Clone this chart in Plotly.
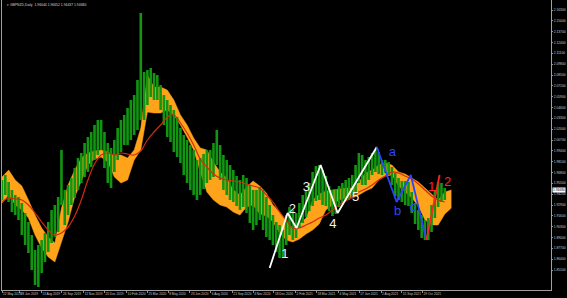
import pandas as pd
import plotly.graph_objects as go

START = "2019-05-22"

# weekly bar highs / lows (GBPNZD daily chart)
price_high = [
    1.9590, 1.9650, 1.9566, 1.9470, 1.9410, 1.9386, 1.9314, 1.9194, 1.9086, 1.8930,
    1.8750, 1.8810, 1.8870, 1.8954, 1.9086, 1.9230, 1.9290, 1.9386, 1.9950, 1.9470,
    1.9530, 1.9614, 1.9734, 1.9854, 1.9914, 2.0034, 2.0106, 2.0166, 2.0250, 2.0310,
    2.0310, 2.0166, 2.0034, 1.9974, 2.0070, 2.0214, 2.0310, 2.0370, 2.0454, 2.0550,
    2.0610, 2.0790, 2.1594, 2.0886, 2.0910, 2.0934, 2.0874, 2.0850, 2.0730, 2.0610,
    2.0550, 2.0490, 2.0430, 2.0346, 2.0214, 2.0130, 2.0070, 2.0010, 1.9950, 1.9830,
    1.9854, 1.9902, 1.9950, 1.9950, 2.0034, 2.0190, 2.0010, 1.9890, 1.9830, 1.9770,
    1.9710, 1.9638, 1.9590, 1.9650, 1.9614, 1.9530, 1.9470, 1.9470, 1.9506, 1.9470,
    1.9386, 1.9290, 1.9170, 1.9086, 1.9050, 1.8990, 1.9170, 1.9266, 1.9230, 1.9194,
    1.9314, 1.9410, 1.9458, 1.9554, 1.9686, 1.9758, 1.9770, 1.9710, 1.9638, 1.9518,
    1.9470, 1.9482, 1.9518, 1.9554, 1.9590, 1.9614, 1.9650, 1.9770, 1.9914, 1.9890,
    1.9830, 1.9866, 1.9914, 1.9950, 1.9926, 1.9830, 1.9830, 1.9806, 1.9746, 1.9674,
    1.9614, 1.9578, 1.9578, 1.9566, 1.9446, 1.9314, 1.9230, 1.9170, 1.9110, 1.9134,
    1.9290, 1.9470, 1.9566, 1.9554, 1.9494,
]
price_low = [
    1.9350, 1.9410, 1.9326, 1.9206, 1.9170, 1.9110, 1.8930, 1.8810, 1.8714, 1.8510,
    1.8330, 1.8306, 1.8474, 1.8606, 1.8726, 1.8834, 1.8906, 1.8966, 1.9290, 1.9050,
    1.9170, 1.9290, 1.9374, 1.9470, 1.9554, 1.9626, 1.9686, 1.9746, 1.9830, 1.9890,
    1.9950, 1.9734, 1.9554, 1.9494, 1.9686, 1.9830, 1.9926, 2.0010, 2.0010, 2.0070,
    2.0130, 2.0190, 2.0310, 2.0310, 2.0490, 2.0586, 2.0550, 2.0550, 2.0430, 2.0250,
    2.0106, 2.0046, 1.9926, 1.9866, 1.9794, 1.9650, 1.9554, 1.9470, 1.9410, 1.9350,
    1.9410, 1.9482, 1.9554, 1.9590, 1.9626, 1.9770, 1.9590, 1.9470, 1.9410, 1.9350,
    1.9326, 1.9278, 1.9230, 1.9266, 1.9194, 1.9074, 1.8990, 1.9050, 1.9110, 1.8990,
    1.8906, 1.8870, 1.8810, 1.8726, 1.8654, 1.8654, 1.8810, 1.8930, 1.8870, 1.8894,
    1.9014, 1.9074, 1.9146, 1.9218, 1.9278, 1.9338, 1.9350, 1.9290, 1.9278, 1.9218,
    1.9158, 1.9182, 1.9266, 1.9302, 1.9350, 1.9350, 1.9374, 1.9410, 1.9554, 1.9530,
    1.9530, 1.9590, 1.9650, 1.9686, 1.9662, 1.9650, 1.9674, 1.9650, 1.9530, 1.9398,
    1.9350, 1.9326, 1.9290, 1.9278, 1.9194, 1.9062, 1.8990, 1.8894, 1.8870, 1.8870,
    1.8966, 1.9134, 1.9266, 1.9326, 1.9350,
]

# Ichimoku cloud edges (every 2 weeks)
cloud_top = [
    1.9626, 1.9710, 1.9590, 1.9518, 1.9350, 1.9170, 1.9014, 1.8906, 1.8834, 1.9254,
    1.9530, 1.9710, 1.9854, 1.9914, 1.9938, 1.9950, 1.9926, 1.9890, 1.9890, 1.9854,
    1.9950, 2.0214, 2.0850, 2.0706, 2.0706, 2.0670, 2.0550, 2.0370, 2.0250, 2.0094,
    1.9974, 1.9950, 1.9806, 1.9686, 1.9614, 1.9470, 1.9410, 1.9506, 1.9578, 1.9518,
    1.9434, 1.9290, 1.9206, 1.9098, 1.9014, 1.9062, 1.9134, 1.9350, 1.9422, 1.9458,
    1.9470, 1.9482, 1.9494, 1.9494, 1.9566, 1.9674, 1.9710, 1.9770, 1.9794, 1.9770,
    1.9686, 1.9662, 1.9614, 1.9566, 1.9494, 1.9422, 1.9350, 1.9446, 1.9470,
]
cloud_bottom = [
    1.9314, 1.9410, 1.9290, 1.9230, 1.9134, 1.8930, 1.8774, 1.8666, 1.8606, 1.8846,
    1.9086, 1.9386, 1.9590, 1.9770, 1.9842, 1.9866, 1.9806, 1.9626, 1.9554, 1.9590,
    1.9830, 1.9950, 2.0406, 2.0394, 2.0394, 2.0430, 2.0370, 2.0250, 2.0106, 1.9950,
    1.9686, 1.9446, 1.9350, 1.9290, 1.9266, 1.9206, 1.9170, 1.9266, 1.9290, 1.9182,
    1.9158, 1.9086, 1.8954, 1.8870, 1.8846, 1.8882, 1.8942, 1.8990, 1.9062, 1.9230,
    1.9290, 1.9350, 1.9374, 1.9374, 1.9410, 1.9458, 1.9494, 1.9590, 1.9638, 1.9650,
    1.9518, 1.9446, 1.9374, 1.9278, 1.9110, 1.9050, 1.9050, 1.9182, 1.9254,
]

# moving average (every 2 weeks)
ma_values = [
    1.9326, 1.9374, 1.9362, 1.9350, 1.9290, 1.9194, 1.9086, 1.8990, 1.8930, 1.8954,
    1.9026, 1.9158, 1.9350, 1.9590, 1.9782, 1.9890, 1.9914, 1.9890, 1.9914, 1.9902,
    1.9890, 1.9938, 2.0070, 2.0166, 2.0250, 2.0346, 2.0370, 2.0274, 2.0154, 2.0010,
    1.9842, 1.9746, 1.9662, 1.9614, 1.9590, 1.9578, 1.9566, 1.9542, 1.9518, 1.9494,
    1.9410, 1.9326, 1.9206, 1.9110, 1.9014, 1.9014, 1.9050, 1.9086, 1.9134, 1.9170,
    1.9230, 1.9290, 1.9338, 1.9386, 1.9446, 1.9482, 1.9530, 1.9590, 1.9638, 1.9686,
    1.9674, 1.9638, 1.9602, 1.9542, 1.9470, 1.9398, 1.9350, 1.9326,
]

# Elliott wave zigzags
white_dates = ["2020-12-09", "2021-01-16", "2021-02-04", "2021-03-27", "2021-05-02", "2021-07-24"]
white_prices = [1.8534, 1.9194, 1.9014, 1.9770, 1.9194, 1.9986]
blue_dates = ["2021-07-24", "2021-09-04", "2021-10-04", "2021-11-06"]
blue_prices = [1.9986, 1.9326, 1.9650, 1.8870]
red_dates = ["2021-11-06", "2021-12-04"]
red_prices = [1.8870, 1.9650]

white_labels = ["1", "2", "3", "4", "5"]
white_label_dates = ["2021-01-10", "2021-01-26", "2021-02-25", "2021-04-22", "2021-06-09"]
white_label_prices = [1.8690, 1.9230, 1.9494, 1.9050, 1.9374]
blue_labels = ["a", "b", "c"]
blue_label_dates = ["2021-08-26", "2021-09-06", "2021-10-08"]
blue_label_prices = [1.9914, 1.9206, 1.9254]
red_labels = ["1", "2"]
red_label_dates = ["2021-11-17", "2021-12-21"]
red_label_prices = [1.9494, 1.9554]

x_tick_dates = ["2019-05-22", "2019-06-28", "2019-08-13", "2019-09-26", "2019-11-11",
                "2019-12-25", "2020-02-10", "2020-03-25", "2020-05-08", "2020-06-23",
                "2020-08-06", "2020-09-21", "2020-11-04", "2020-12-18", "2021-02-02",
                "2021-03-18", "2021-05-04", "2021-06-17", "2021-08-02", "2021-09-15",
                "2021-10-29"]
x_tick_text = ["22 May 2019", "28 Jun 2019", "13 Aug 2019", "26 Sep 2019", "11 Nov 2019",
               "25 Dec 2019", "10 Feb 2020", "25 Mar 2020", "8 May 2020", "23 Jun 2020",
               "6 Aug 2020", "21 Sep 2020", "4 Nov 2020", "18 Dec 2020", "2 Feb 2021",
               "18 Mar 2021", "4 May 2021", "17 Jun 2021", "2 Aug 2021", "15 Sep 2021",
               "29 Oct 2021"]
y_tick_vals = [2.163, 2.150, 2.137, 2.124, 2.111, 2.098, 2.085, 2.072, 2.059, 2.046,
               2.033, 2.020, 2.007, 1.994, 1.981, 1.968, 1.955, 1.942, 1.929, 1.916,
               1.903, 1.890, 1.877, 1.864, 1.851]
last_price = 1.94680
title_text = "GBPNZD,Daily  1.96044 1.96652 1.94437 1.94680"

week_dates = pd.date_range(START, periods=len(price_high), freq="7D")
cloud_dates = pd.date_range(START, periods=len(cloud_top), freq="14D")
ma_dates = pd.date_range(START, periods=len(ma_values), freq="14D")

fig = go.Figure()

# cloud
fig.add_trace(go.Scatter(x=cloud_dates, y=cloud_bottom, mode="lines",
                         line=dict(color="#ffa31a", width=0.5), hoverinfo="skip"))
fig.add_trace(go.Scatter(x=cloud_dates, y=cloud_top, mode="lines", fill="tonexty",
                         fillcolor="#ffa31a", line=dict(color="#ffa31a", width=0.5),
                         hoverinfo="skip"))

# price bars
bx, by = [], []
for d, h, l in zip(week_dates, price_high, price_low):
    bx += [d, d, None]
    by += [l, h, None]
fig.add_trace(go.Scatter(x=bx, y=by, mode="lines",
                         line=dict(color="#119611", width=2.6)))

# moving average
fig.add_trace(go.Scatter(x=ma_dates, y=ma_values, mode="lines", line_shape="spline",
                         line=dict(color="#d42a10", width=1.2)))

# waves
fig.add_trace(go.Scatter(x=white_dates, y=white_prices, mode="lines",
                         line=dict(color="#ffffff", width=1.8)))
fig.add_trace(go.Scatter(x=blue_dates, y=blue_prices, mode="lines",
                         line=dict(color="#2a45ff", width=1.8)))
fig.add_trace(go.Scatter(x=red_dates, y=red_prices, mode="lines",
                         line=dict(color="#ff2222", width=1.8)))

fig.add_trace(go.Scatter(x=white_label_dates, y=white_label_prices, mode="text",
                         text=white_labels,
                         textfont=dict(color="#f0f0f0", size=13, family="Arial")))
fig.add_trace(go.Scatter(x=blue_label_dates, y=blue_label_prices, mode="text",
                         text=blue_labels,
                         textfont=dict(color="#2a45ff", size=13, family="Arial")))
fig.add_trace(go.Scatter(x=red_label_dates, y=red_label_prices, mode="text",
                         text=red_labels,
                         textfont=dict(color="#ff2222", size=13, family="Arial")))

fig.update_layout(
    width=567, height=298,
    margin=dict(l=2, r=16, t=0, b=8),
    paper_bgcolor="#000000", plot_bgcolor="#000000",
    showlegend=False,
    xaxis=dict(range=["2019-05-22", "2022-07-28"], showgrid=False, zeroline=False,
               tickvals=x_tick_dates, ticktext=x_tick_text, ticks="outside",
               ticklen=2, tickcolor="#909090", ticklabelposition="outside right",
               tickangle=0,
               tickfont=dict(color="#c8c8c8", size=3.2, family="Arial"),
               showline=True, linecolor="#a0a0a0", linewidth=1, mirror=True,
               automargin=False),
    yaxis=dict(range=[1.827, 2.175], side="right", showgrid=False, zeroline=False,
               tickvals=y_tick_vals, ticktext=[f"{v:.5f}" for v in y_tick_vals],
               ticks="outside", ticklen=1, tickcolor="#909090",
               tickfont=dict(color="#c8c8c8", size=3.3, family="Arial"),
               showline=True, linecolor="#a0a0a0", linewidth=1, mirror=True,
               automargin=False),
)

fig.add_annotation(xref="paper", yref="paper", x=0.006, y=0.998, xanchor="left",
                   yanchor="top", showarrow=False, text="\u25be " + title_text,
                   font=dict(color="#d8d8d8", size=3.4, family="Arial"))
fig.add_annotation(xref="paper", yref="y", x=1, y=last_price, xanchor="left",
                   yanchor="middle", showarrow=False, xshift=1,
                   text=f"{last_price:.5f}", bgcolor="#ffffff", borderpad=0,
                   font=dict(color="#000000", size=3.3, family="Arial"))

fig.write_html("out.html")
